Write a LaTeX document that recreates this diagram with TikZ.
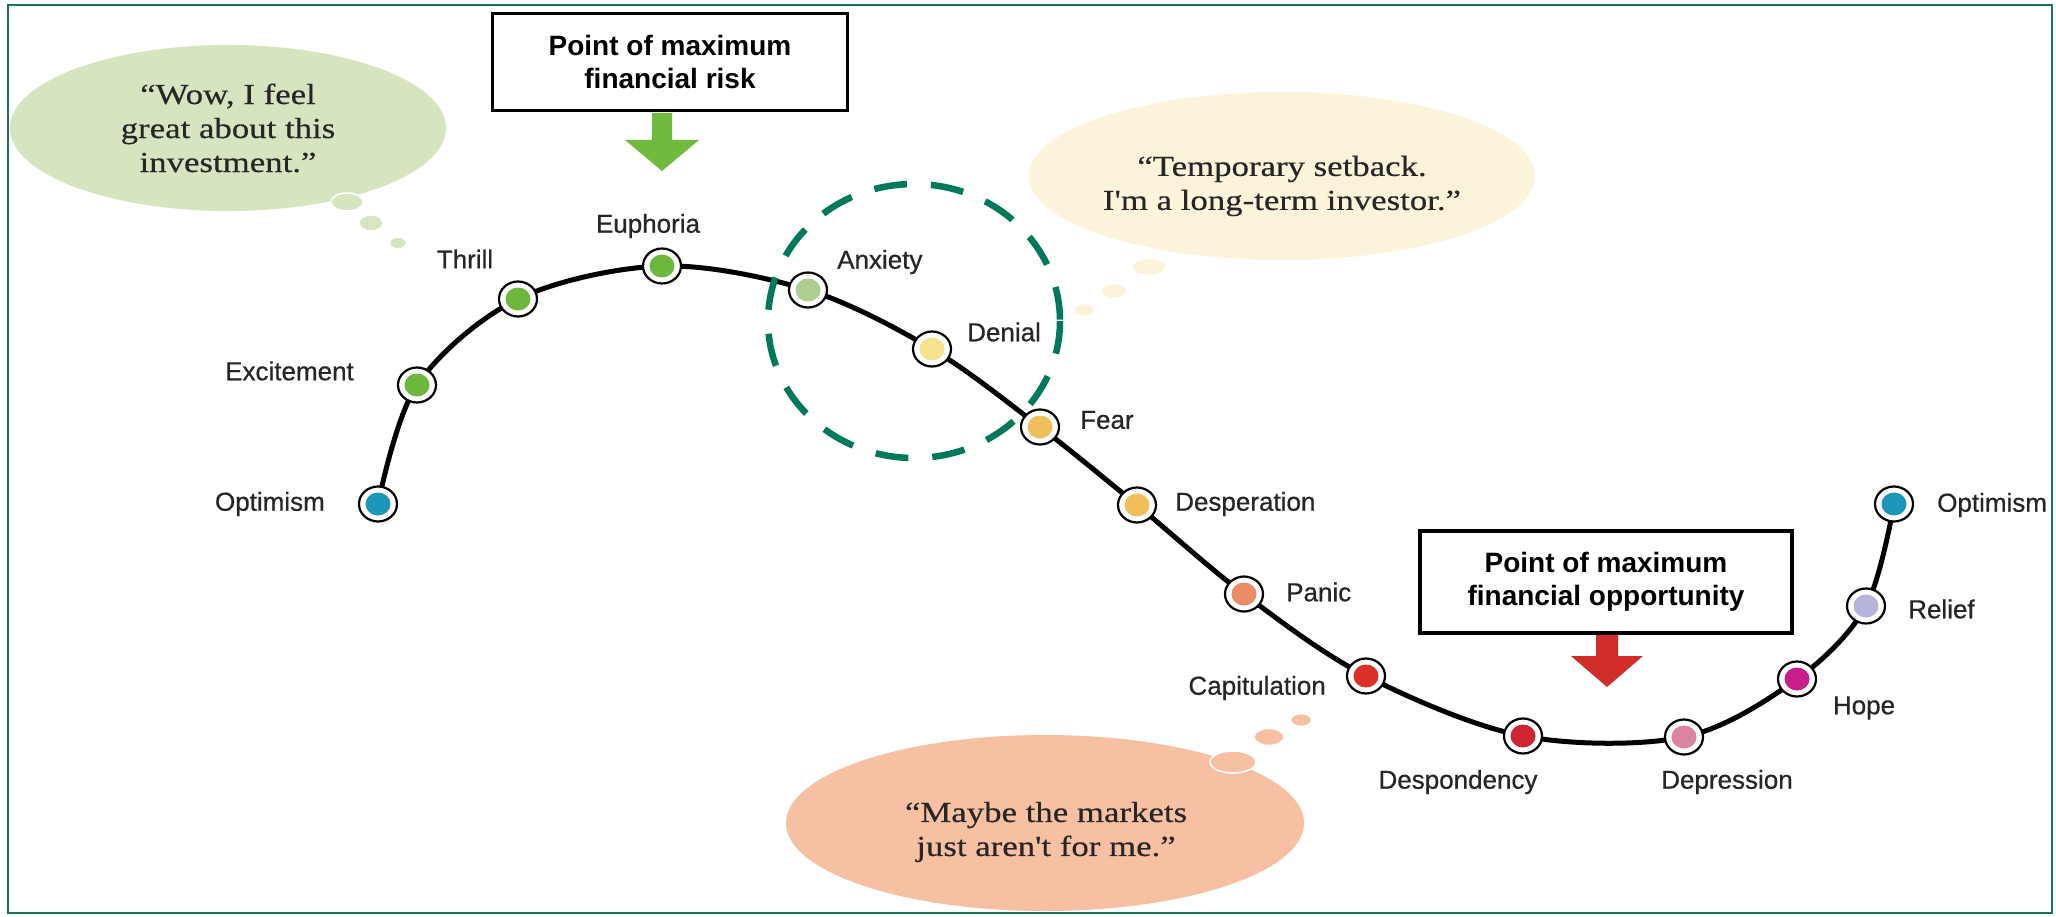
\documentclass[tikz,border=0pt]{standalone}
\usepackage{fontspec}
\setmainfont{Liberation Sans}
\newfontfamily\labfont[FakeBold=0.6]{Liberation Sans}
\newfontfamily\bubfont[FakeStretch=1.2,FakeBold=0.4]{Liberation Serif}
\usetikzlibrary{shapes.geometric,backgrounds}
\definecolor{framec}{RGB}{20,118,88}
\definecolor{labtext}{RGB}{38,38,38}
\definecolor{bgreen}{RGB}{214,228,192}
\definecolor{bcream}{RGB}{251,243,218}
\definecolor{bsalmon}{RGB}{247,192,163}
\definecolor{arrgreen}{RGB}{112,186,62}
\definecolor{arrred}{RGB}{208,44,40}
\definecolor{cteal}{RGB}{30,150,185}
\definecolor{cgreen}{RGB}{108,184,60}
\definecolor{clgreen}{RGB}{172,206,142}
\definecolor{cpyellow}{RGB}{246,226,140}
\definecolor{cyellow}{RGB}{240,190,90}
\definecolor{cpanic}{RGB}{234,140,100}
\definecolor{cred}{RGB}{218,48,40}
\definecolor{cdred}{RGB}{206,38,48}
\definecolor{cpink}{RGB}{220,130,162}
\definecolor{cmag}{RGB}{200,30,140}
\definecolor{clav}{RGB}{182,180,220}
\definecolor{dashc}{RGB}{0,120,90}
\begin{document}
\begin{tikzpicture}[x=1pt,y=-1pt,
  lab/.style={font=\labfont\fontsize{26}{30}\selectfont, text=labtext, inner sep=0pt},
  mk/.style={ellipse, draw=black, line width=2.2pt, fill=white, minimum width=38pt, minimum height=35pt, inner sep=0pt,
    path picture={\fill[#1] (path picture bounding box.center) ellipse (12.5pt and 11.5pt);}},
  bubble/.style={ellipse, draw=none, inner sep=0pt},
  btext/.style={align=center, text=labtext, inner sep=0pt,
    font=\bubfont\fontsize{29}{34}\selectfont},
  dot/.style={ellipse, draw=white, line width=1.5pt, inner sep=0pt},
  box/.style={draw=black, line width=3.5pt, fill=white, align=center, inner sep=0pt,
    font=\bfseries\fontsize{28}{33}\selectfont, text=black},
  curve/.style={line width=5pt, black},
]
\useasboundingbox (0,0) rectangle (2056,917);

% thought bubbles
\node[bubble, fill=bgreen, minimum width=436pt, minimum height=166pt] (bg) at (228,128) {};
\node[btext] (bgt) at (228,128) {“Wow, I feel\\great about this\\investment.”};
\node[dot, fill=bgreen, minimum width=32pt, minimum height=18pt] (bg1) at (347,202) {};
\node[dot, fill=bgreen, minimum width=24pt, minimum height=16pt] (bg2) at (371,223) {};
\node[dot, fill=bgreen, minimum width=17pt, minimum height=12pt] (bg3) at (398,243) {};

\node[bubble, fill=bcream, minimum width=506pt, minimum height=168pt] (bc) at (1282,176) {};
\node[btext] (bct) at (1282,186) {“Temporary setback.\\I'm a long-term investor.”};
\node[dot, fill=bcream, minimum width=34pt, minimum height=17pt] (bc1) at (1149,267) {};
\node[dot, fill=bcream, minimum width=26pt, minimum height=15pt] (bc2) at (1114,291) {};
\node[dot, fill=bcream, minimum width=20pt, minimum height=13pt] (bc3) at (1084,310) {};

\node[bubble, fill=bsalmon, minimum width=518pt, minimum height=176pt] (bs) at (1045,823) {};
\node[btext] (bst) at (1046,832) {“Maybe the markets\\just aren't for me.”};
\node[dot, fill=bsalmon, minimum width=46pt, minimum height=22pt] (bs1) at (1233,762) {};
\node[dot, fill=bsalmon, minimum width=30pt, minimum height=17pt] (bs2) at (1269,737) {};
\node[dot, fill=bsalmon, minimum width=21pt, minimum height=13pt] (bs3) at (1301,720) {};

% markers
\node[mk=cteal]    (o1) at (378,504) {};
\node[mk=cgreen]   (ex) at (417,385) {};
\node[mk=cgreen]   (th) at (518,299) {};
\node[mk=cgreen]   (eu) at (662,266) {};
\node[mk=clgreen]  (an) at (808,290) {};
\node[mk=cpyellow] (de) at (932,349) {};
\node[mk=cyellow]  (fe) at (1040,427) {};
\node[mk=cyellow]  (ds) at (1137,505) {};
\node[mk=cpanic]   (pa) at (1244,594) {};
\node[mk=cred]     (ca) at (1366,676) {};
\node[mk=cdred]    (dp) at (1523,736) {};
\node[mk=cpink]    (dr) at (1684,737) {};
\node[mk=cmag]     (ho) at (1797,679) {};
\node[mk=clav]     (re) at (1866,606) {};
\node[mk=cteal]    (o2) at (1894,504) {};

% curve beneath the markers
\begin{pgfonlayer}{background}
\fill[white] (0,0) rectangle (2056,917);
\draw[curve] plot[smooth, tension=0.55] coordinates {(o1.center) (ex.center) (th.center) (eu.center) (an.center) (de.center) (fe.center) (ds.center) (pa.center) (ca.center) (dp.center) (dr.center) (ho.center) (re.center) (o2.center)};
\end{pgfonlayer}

% labels
\node[lab, anchor=east] (lo1) at (325,504) {Optimism};
\node[lab, anchor=east] (lex) at (354,371) {Excitement};
\node[lab] (lth) at (465,259) {Thrill};
\node[lab] (leu) at (648,226) {Euphoria};
\node[lab, anchor=west] (lan) at (837,262) {Anxiety};
\node[lab, anchor=west] (lde) at (967,332) {Denial};
\node[lab, anchor=west] (lfe) at (1080,420) {Fear};
\node[lab, anchor=west] (lds) at (1175,504) {Desperation};
\node[lab, anchor=west] (lpa) at (1286,592) {Panic};
\node[lab, anchor=east] (lca) at (1326,688) {Capitulation};
\node[lab] (ldp) at (1458,782) {Despondency};
\node[lab] (ldr) at (1727,782) {Depression};
\node[lab] (lho) at (1864,708) {Hope};
\node[lab, anchor=west] (lre) at (1908,609) {Relief};
\node[lab, anchor=west] (lo2) at (1937,505) {Optimism};

% boxes
\node[box, minimum width=355pt, minimum height=97pt] (b1) at (670,62) {Point of maximum\\financial risk};
\node[box, minimum width=372pt, minimum height=102pt] (b2) at (1606,582) {Point of maximum\\financial opportunity};

% arrows
\fill[arrgreen] (652,113) -- (672,113) -- (672,140) -- (699,140) -- (662,171) -- (625,140) -- (652,140) -- cycle;
\fill[arrred] (1596,635) -- (1618,635) -- (1618,656) -- (1643,656) -- (1607,687) -- (1571,656) -- (1596,656) -- cycle;

% dashed highlight
\draw[dashc, line width=6.5pt, dash pattern=on 33pt off 24pt] (914,321) ellipse (146 and 137);

% frame
\draw[framec, line width=2.5pt] (8,5) rectangle (2052,913);
\end{tikzpicture}
\end{document}
